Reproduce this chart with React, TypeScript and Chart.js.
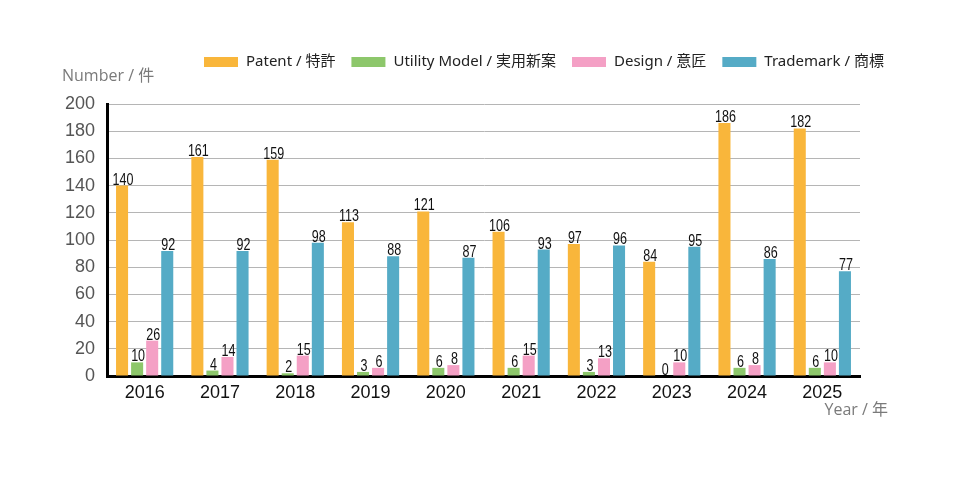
import React, { useEffect, useRef } from "react";
import { Chart, registerables } from "chart.js";

Chart.register(...registerables);

const years = ["2016", "2017", "2018", "2019", "2020", "2021", "2022", "2023", "2024", "2025"];
const patent = [140, 161, 159, 113, 121, 106, 97, 84, 186, 182];
const utilityModel = [10, 4, 2, 3, 6, 6, 3, 0, 6, 6];
const design = [26, 14, 15, 6, 8, 15, 13, 10, 8, 10];
const trademark = [92, 92, 98, 88, 87, 93, 96, 95, 86, 77];
const seriesNames = ["Patent / 特許", "Utility Model / 実用新案", "Design / 意匠", "Trademark / 商標"];
const seriesColors = ["#F9B63B", "#8DC76B", "#F4A0C5", "#55ABC6"];
const yTitle = "Number / 件";
const xTitle = "Year / 年";

const labelFont = '16.5px "Liberation Sans", Arial, sans-serif';
const titleFont = '16px "Open Sans", "Noto Sans", "Noto Sans CJK JP", sans-serif';
const legendFont = '15px "Noto Sans", "Noto Sans CJK JP", sans-serif';

const extrasPlugin = {
  id: "extras",
  afterDatasetsDraw(chart: any) {
    const ctx = chart.ctx;
    const sx = 0.76;
    chart.data.datasets.forEach((ds: any, i: number) => {
      const meta = chart.getDatasetMeta(i);
      meta.data.forEach((bar: any, j: number) => {
        ctx.save();
        ctx.font = labelFont;
        ctx.fillStyle = "#111";
        ctx.textAlign = "center";
        ctx.textBaseline = "alphabetic";
        ctx.translate(bar.x + 1, bar.y - 1);
        ctx.scale(sx, 1);
        ctx.fillText(String(ds.data[j]), 0, 0);
        ctx.restore();
      });
    });
  },
  afterDraw(chart: any) {
    const ctx = chart.ctx;
    ctx.save();
    // axis titles
    ctx.font = titleFont;
    ctx.fillStyle = "#7a7a7a";
    ctx.textBaseline = "middle";
    ctx.textAlign = "left";
    ctx.fillText(yTitle, 62, 76);
    ctx.textAlign = "right";
    ctx.fillText(xTitle, 888, 410);
    // legend
    ctx.font = legendFont;
    ctx.textAlign = "left";
    let x = 204;
    const cy = 62;
    chart.data.datasets.forEach((ds: any) => {
      ctx.fillStyle = ds.backgroundColor;
      ctx.fillRect(x, cy - 5, 34, 10);
      x += 34 + 8;
      ctx.fillStyle = "#222";
      ctx.fillText(ds.label, x, cy);
      x += ctx.measureText(ds.label).width + 16;
    });
    ctx.restore();
  },
};

export default function App() {
  const ref = useRef<HTMLCanvasElement | null>(null);
  useEffect(() => {
    document.body.style.margin = "0";
    if (!ref.current) return;
    const data = [patent, utilityModel, design, trademark];
    const chart = new Chart(ref.current, {
      type: "bar",
      data: {
        labels: years,
        datasets: data.map((d, i) => ({
          label: seriesNames[i],
          data: d,
          backgroundColor: seriesColors[i],
          categoryPercentage: 0.8,
          barPercentage: 0.8,
        })),
      },
      options: {
        animation: false,
        responsive: true,
        maintainAspectRatio: false,
        layout: { padding: { top: 104, right: 98, left: 0, bottom: 0 } },
        plugins: { legend: { display: false }, tooltip: { enabled: false } },
        scales: {
          x: {
            grid: { display: false, drawTicks: false },
            border: { display: true, color: "#000", width: 3 },
            ticks: { color: "#111", font: { size: 18, family: '"Liberation Sans", Arial, sans-serif' }, padding: 6 },
            afterFit: (s: any) => { s.height = 103; },
          },
          y: {
            min: 0,
            max: 200,
            ticks: { stepSize: 20, color: "#555", font: { size: 18, family: '"Liberation Sans", Arial, sans-serif' }, padding: 12 },
            grid: { color: "#b5b5b5", lineWidth: 1, drawTicks: false },
            border: { display: true, color: "#000", width: 3 },
            afterFit: (s: any) => { s.width = 107; },
          },
        },
      },
      plugins: [extrasPlugin],
    } as any);
    return () => chart.destroy();
  }, []);
  return (
    <div style={{ width: 958, height: 479, position: "relative" }}>
      <canvas ref={ref} />
    </div>
  );
}
